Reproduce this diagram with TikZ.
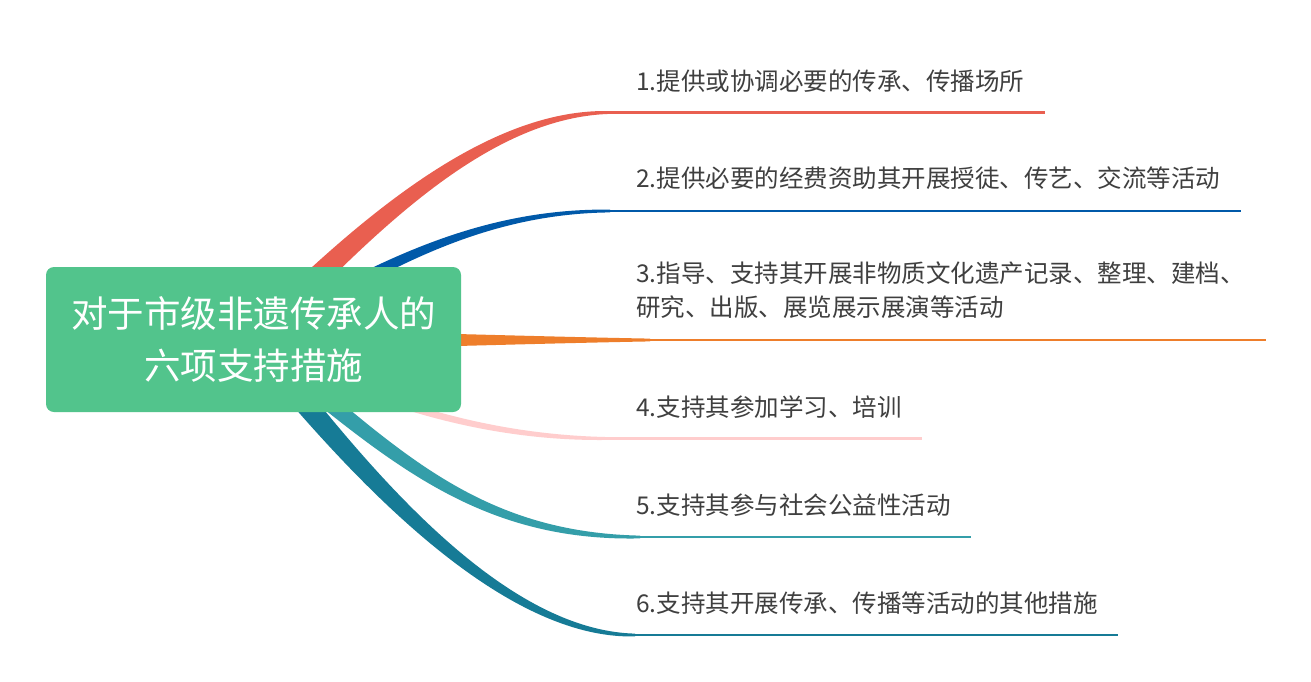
\documentclass[tikz,border=0pt]{standalone}
\usepackage{fontspec}
\setmainfont{Noto Sans CJK SC}
\usetikzlibrary{calc}
\definecolor{cred}{HTML}{E95F50}
\definecolor{cblue}{HTML}{0059A9}
\definecolor{corange}{HTML}{EE7E2B}
\definecolor{cpink}{HTML}{FFCDCD}
\definecolor{cteal}{HTML}{349EA9}
\definecolor{cdteal}{HTML}{167B96}
\definecolor{cgreen}{HTML}{52C48C}
\definecolor{ctext}{HTML}{3F3F3F}
\newcommand\mmbranch[8]{% #1 colour, #2 first control, #3 second control, #4 end, #5 #6 #7 half-widths, #8 id
  \coordinate (a0#8) at ($(o)!#5!90:(#2)$);
  \coordinate (b0#8) at ($(o)!#5!-90:(#2)$);
  \coordinate (n1#8) at ($(o)!#6!90:(#2)$);
  \coordinate (m1#8) at ($(o)!#6!-90:(#2)$);
  \coordinate (n2#8) at ($(#4)!#7!-90:(#3)$);
  \coordinate (m2#8) at ($(#4)!#7!90:(#3)$);
  \coordinate (a3#8) at ($(#4)!1.4pt!-90:(#3)$);
  \coordinate (b3#8) at ($(#4)!1.4pt!90:(#3)$);
  \fill[#1] (a0#8) .. controls ($(#2)+(n1#8)-(o)$) and ($(#3)+(n2#8)-(#4)$) .. (a3#8)
    -- (b3#8) .. controls ($(#3)+(m2#8)-(#4)$) and ($(#2)+(m1#8)-(o)$) .. (b0#8) -- cycle;
}
\tikzset{
  leaf/.style={anchor=west, inner sep=0pt, text=ctext, font=\fontsize{24.5}{34}\selectfont, align=left},
  hline/.style={line width=2.8pt},
  rootbox/.style={fill=cgreen, rounded corners=8pt, minimum width=415pt, minimum height=145pt,
    inner sep=0pt, text=white, align=center, font=\fontsize{36.5}{52}\selectfont}
}
\begin{document}
\begin{tikzpicture}[x=1pt,y=-1pt]
\useasboundingbox (0,0) rectangle (1311,681);
\fill[white] (0,0) rectangle (1311,681);
\coordinate (o) at (253,340);
% first control, second control, branch end, line end
\coordinate (k11) at (353,240);   \coordinate (k21) at (480,112.5); \coordinate (e1) at (610,112.5); \coordinate (f1) at (1045,112.5);
\coordinate (k12) at (365.6,275); \coordinate (k22) at (470,211);   \coordinate (e2) at (610,211);   \coordinate (f2) at (1241,211);
\coordinate (k13) at (350,340);   \coordinate (k23) at (520,340);   \coordinate (e3) at (650,340);   \coordinate (f3) at (1266,340);
\coordinate (k14) at (400,420);   \coordinate (k24) at (520,438.5); \coordinate (e4) at (610,438.5); \coordinate (f4) at (922,438.5);
\coordinate (k15) at (385,447);   \coordinate (k25) at (470,537);   \coordinate (e5) at (640,537);   \coordinate (f5) at (971,537);
\coordinate (k16) at (338,445);   \coordinate (k26) at (490,635);   \coordinate (e6) at (635,635);   \coordinate (f6) at (1118,635);
\mmbranch{cred}{k11}{k21}{e1}{12pt}{11pt}{5pt}{r}
\mmbranch{cblue}{k12}{k22}{e2}{7pt}{6.5pt}{3pt}{b}
\mmbranch{corange}{k13}{k23}{e3}{10.5pt}{9.5pt}{3.8pt}{o}
\mmbranch{cpink}{k14}{k24}{e4}{4pt}{4pt}{3pt}{p}
\mmbranch{cteal}{k15}{k25}{e5}{9pt}{8pt}{5pt}{t}
\mmbranch{cdteal}{k16}{k26}{e6}{12pt}{10.5pt}{5pt}{d}
\draw[hline, cred] (e1) -- (f1);
\draw[hline, cblue] (e2) -- (f2);
\draw[hline, corange] (e3) -- (f3);
\draw[hline, cpink] (e4) -- (f4);
\draw[hline, cteal] (e5) -- (f5);
\draw[hline, cdteal] (e6) -- (f6);
\node[rootbox] (root) at (253.5,339.5) {对于市级非遗传承人的\\六项支持措施};
\node[leaf] (t1) at (636,81) {1.提供或协调必要的传承、传播场所};
\node[leaf] (t2) at (636,178) {2.提供必要的经费资助其开展授徒、传艺、交流等活动};
\node[leaf] (t3) at (636,290) {3.指导、支持其开展非物质文化遗产记录、整理、建档、\\研究、出版、展览展示展演等活动};
\node[leaf] (t4) at (636,407) {4.支持其参加学习、培训};
\node[leaf] (t5) at (636,505) {5.支持其参与社会公益性活动};
\node[leaf] (t6) at (636,603) {6.支持其开展传承、传播等活动的其他措施};
\end{tikzpicture}
\end{document}
